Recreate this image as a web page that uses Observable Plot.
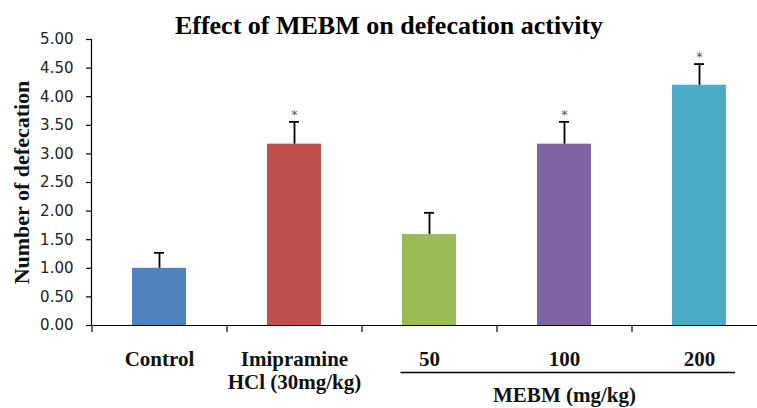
<!DOCTYPE html>
<html>
<head>
<meta charset="utf-8">
<script src="https://cdn.jsdelivr.net/npm/d3@7"></script>
<script src="https://cdn.jsdelivr.net/npm/@observablehq/plot@0.6"></script>
<style>
  html, body { margin: 0; padding: 0; background: #fff; overflow: hidden; }
  #title { position: relative; z-index: 1; top: 11px; height: 30px; line-height: 30px; width: 757px;
    box-sizing: border-box; padding-left: 21px; text-align: center;
    font-family: "Liberation Serif", "Times New Roman", serif; font-weight: bold; font-size: 26px; color: #000; }
  #chart svg { background: transparent !important; }
</style>
</head>
<body>
<div id="title">Effect of MEBM on defecation activity</div>
<div id="chart"></div>
<script>
const groups = ["Control", "Imipramine", "50", "100", "200"];
const groupLabels = ["Control", "Imipramine\nHCl (30mg/kg)", "50", "100", "200"];
const means = [1.00, 3.17, 1.59, 3.17, 4.20];
const errors = [0.27, 0.39, 0.38, 0.39, 0.37];
const signif = ["", "*", "", "*", "*"];
const colors = ["#4F81BD", "#C0504D", "#9BBB59", "#8064A2", "#4BACC6"];
const yTicks = [0, 0.5, 1, 1.5, 2, 2.5, 3, 3.5, 4, 4.5, 5];
const yLabel = "Number of defecation";
const groupTitle = "MEBM (mg/kg)";
const groupSpan = [{from: "50", to: "200", mid: "100", label: groupTitle}];

const data = groups.map((g, i) => ({
  group: g, label: groupLabels[i], value: means[i], top: means[i] + errors[i], sig: signif[i]
}));

const serif = "Liberation Serif, Times New Roman, serif";

const chart = Plot.plot({
  width: 757,
  height: 378,
  marginLeft: 91,
  marginRight: 0,
  marginTop: 9,
  marginBottom: 83,
  style: {background: "transparent", overflow: "visible"},
  x: {domain: groups, range: [91, 766], paddingInner: 0.6, paddingOuter: 0.3, axis: null},
  y: {domain: [0, 5], axis: null},
  color: {domain: groups, range: colors},
  marks: [
    Plot.barY(data, {x: "group", y: "value", fill: "group"}),
    Plot.ruleX(data, {x: "group", y1: "value", y2: "top", stroke: "#000", strokeWidth: 1.8}),
    Plot.tickY(data, {x: "group", y: "top", stroke: "#000", strokeWidth: 1.8, insetLeft: 22, insetRight: 22}),
    Plot.text(data.filter(d => d.sig), {x: "group", y: "top", text: "sig", dy: -7, lineAnchor: "middle",
      fontSize: 13, fill: "#555", fontFamily: "DejaVu Sans"}),
    // axes lines
    Plot.frame({anchor: "left", stroke: "#000", strokeWidth: 1.2}),
    Plot.ruleY([0], {stroke: "#000", strokeWidth: 1.2}),
    Plot.axisY({ticks: yTicks, tickSize: 5, tickPadding: 13, tickFormat: d3.format(".2f"),
      fontSize: 15, fontFamily: "DejaVu Sans", fill: "#222", stroke: "#000", strokeWidth: 1.2}),
    // category boundary ticks
    Plot.ruleX(groups, {x: d => d, dx: 67.5, y1: () => 0, y2: () => 0, insetBottom: -7, stroke: "#000", strokeWidth: 1.2}),
    Plot.ruleX(groups.slice(0, 1), {x: d => d, dx: -67.5, y1: () => 0, y2: () => 0, insetBottom: -7, stroke: "#000", strokeWidth: 1.2}),
    // x labels
    Plot.text(data, {x: "group", text: "label", frameAnchor: "bottom", lineAnchor: "top", dy: 24,
      lineHeight: 1.1, fontSize: 21, fontWeight: "bold", fontFamily: serif, fill: "#111"}),
    // group underline and label
    Plot.ruleY(groupSpan, {y: () => 0, x1: "from", x2: "to", dy: 47, insetLeft: -1.5, insetRight: -9, stroke: "#000", strokeWidth: 1.5}),
    Plot.text(groupSpan, {x: "mid", text: "label", frameAnchor: "bottom", lineAnchor: "top", dy: 62,
      fontSize: 21, fontWeight: "bold", fontFamily: serif, fill: "#111"}),
    // y label
    Plot.text([yLabel], {text: d => d, frameAnchor: "left", textAnchor: "middle", rotate: -90, dx: -70, lineAnchor: "middle",
      fontSize: 22, fontWeight: "bold", fontFamily: serif, fill: "#111"})
  ]
});
document.getElementById("chart").appendChild(chart);
</script>
</body>
</html>
